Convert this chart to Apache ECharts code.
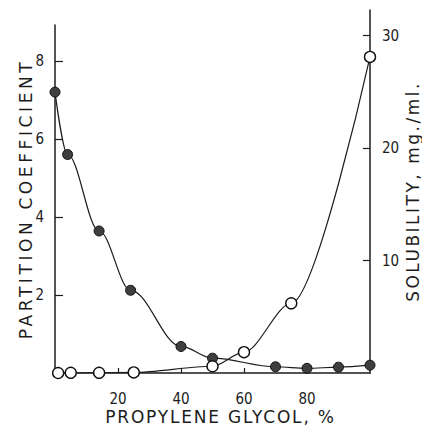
<!DOCTYPE html>
<html>
<head>
<meta charset="utf-8">
<script src="https://cdn.jsdelivr.net/npm/echarts@6/dist/echarts.min.js"></script>
<style>
  html, body { margin: 0; padding: 0; background: #fff; }
  #chart { width: 422px; height: 430px; }
</style>
</head>
<body>
<div id="chart"></div>
<script>
// Partition coefficient (filled circles, left axis) vs propylene glycol content
const pgPartition = [0, 4, 14, 24, 40, 50, 70, 80, 90, 100];
const partitionCoefficient = [7.2, 5.6, 3.64, 2.12, 0.68, 0.38, 0.16, 0.12, 0.15, 0.2];

// Solubility in mg./ml. (open circles, right axis) vs propylene glycol content
const pgSolubility = [1, 5, 14, 25, 50, 60, 75, 100];
const solubility = [0, 0.02, 0.02, 0.05, 0.6, 1.85, 6.2, 28.1];

// Tick labels
const xTickLabels = [20, 40, 60, 80];
const leftTickLabels = [2, 4, 6, 8];
const rightTickLabels = [10, 20, 30];

const INK = '#1c1c1c';
const labelFont = "'Liberation Sans Narrow', 'DejaVu Sans Condensed', 'Liberation Sans', sans-serif";
const nameFont = "'DejaVu Sans', sans-serif";

function pairs(xs, ys) { return xs.map((x, i) => [x, ys[i]]); }

const chart = echarts.init(document.getElementById('chart'), null, { renderer: 'svg' });

const axisLine = { show: true, onZero: false, lineStyle: { color: INK, width: 1.5 } };

chart.setOption({
  animation: false,
  backgroundColor: '#fff',
  grid: [
    { left: 55, right: 52, top: 25, bottom: 57, outerBoundsMode: 'none' },
    { left: 55, right: 52, top: 10, bottom: 57, outerBoundsMode: 'none' }
  ],
  xAxis: [
    {
      gridIndex: 0, type: 'value', min: 0, max: 100,
      axisLine,
      splitLine: { show: false },
      axisTick: { show: true, inside: true, length: 5, customValues: xTickLabels, lineStyle: { color: INK, width: 1.2 } },
      axisLabel: { customValues: xTickLabels, margin: 18, color: INK, fontSize: 15, fontFamily: labelFont },
      name: 'PROPYLENE GLYCOL, %', nameLocation: 'middle', nameGap: 35, nameMoveOverlap: false,
      nameTextStyle: { color: INK, fontSize: 17, fontFamily: nameFont, padding: [0, 0, 0, 16] }
    },
    { gridIndex: 1, type: 'value', min: 0, max: 100, show: false }
  ],
  yAxis: [
    {
      gridIndex: 0, type: 'value', position: 'left', min: 0, max: 8.92,
      axisLine,
      splitLine: { show: false },
      axisTick: { show: true, inside: true, length: 8, customValues: leftTickLabels, lineStyle: { color: INK, width: 1.2 } },
      axisLabel: { customValues: leftTickLabels, margin: 11, color: INK, fontSize: 15, fontFamily: labelFont },
      name: 'PARTITION COEFFICIENT', nameLocation: 'middle', nameRotate: 90, nameGap: 21, nameMoveOverlap: false,
      nameTextStyle: { color: INK, fontSize: 17, fontFamily: nameFont }
    },
    {
      gridIndex: 1, type: 'value', position: 'right', min: 0, max: 32.27,
      axisLine,
      splitLine: { show: false },
      axisTick: { show: true, inside: true, length: 7, customValues: rightTickLabels, lineStyle: { color: INK, width: 1.2 } },
      axisLabel: { customValues: rightTickLabels, margin: 12, color: INK, fontSize: 15, fontFamily: labelFont },
      name: 'SOLUBILITY, mg./ml.', nameLocation: 'middle', nameRotate: 90, nameGap: 34, nameMoveOverlap: false,
      nameTextStyle: { color: INK, fontSize: 17, fontFamily: nameFont }
    }
  ],
  series: [
    {
      name: 'Partition coefficient',
      type: 'line', xAxisIndex: 0, yAxisIndex: 0,
      data: pairs(pgPartition, partitionCoefficient),
      smooth: 0.35, smoothMonotone: 'x',
      symbol: 'circle', symbolSize: 10,
      lineStyle: { color: INK, width: 1.2 },
      itemStyle: { color: '#3e3e3e', borderColor: '#111', borderWidth: 1 },
      z: 3
    },
    {
      name: 'Solubility',
      type: 'line', xAxisIndex: 1, yAxisIndex: 1,
      data: pairs(pgSolubility, solubility),
      smooth: 0.3, smoothMonotone: 'x',
      symbol: 'circle', symbolSize: 11,
      lineStyle: { color: INK, width: 1.2 },
      itemStyle: { color: '#fff', borderColor: '#111', borderWidth: 1.4 },
      z: 4
    }
  ]
});

// Typewriter-style spacing for the axis titles
const titleSpacing = {
  'PARTITION COEFFICIENT': '3.6px',
  'SOLUBILITY, mg./ml.': '2.5px',
  'PROPYLENE GLYCOL, %': '1.8px'
};
function spaceTitles() {
  document.querySelectorAll('#chart svg text').forEach(t => {
    const s = titleSpacing[t.textContent.trim()];
    if (s) t.style.letterSpacing = s;
  });
}
spaceTitles();
chart.on('finished', spaceTitles);
</script>
</body>
</html>
